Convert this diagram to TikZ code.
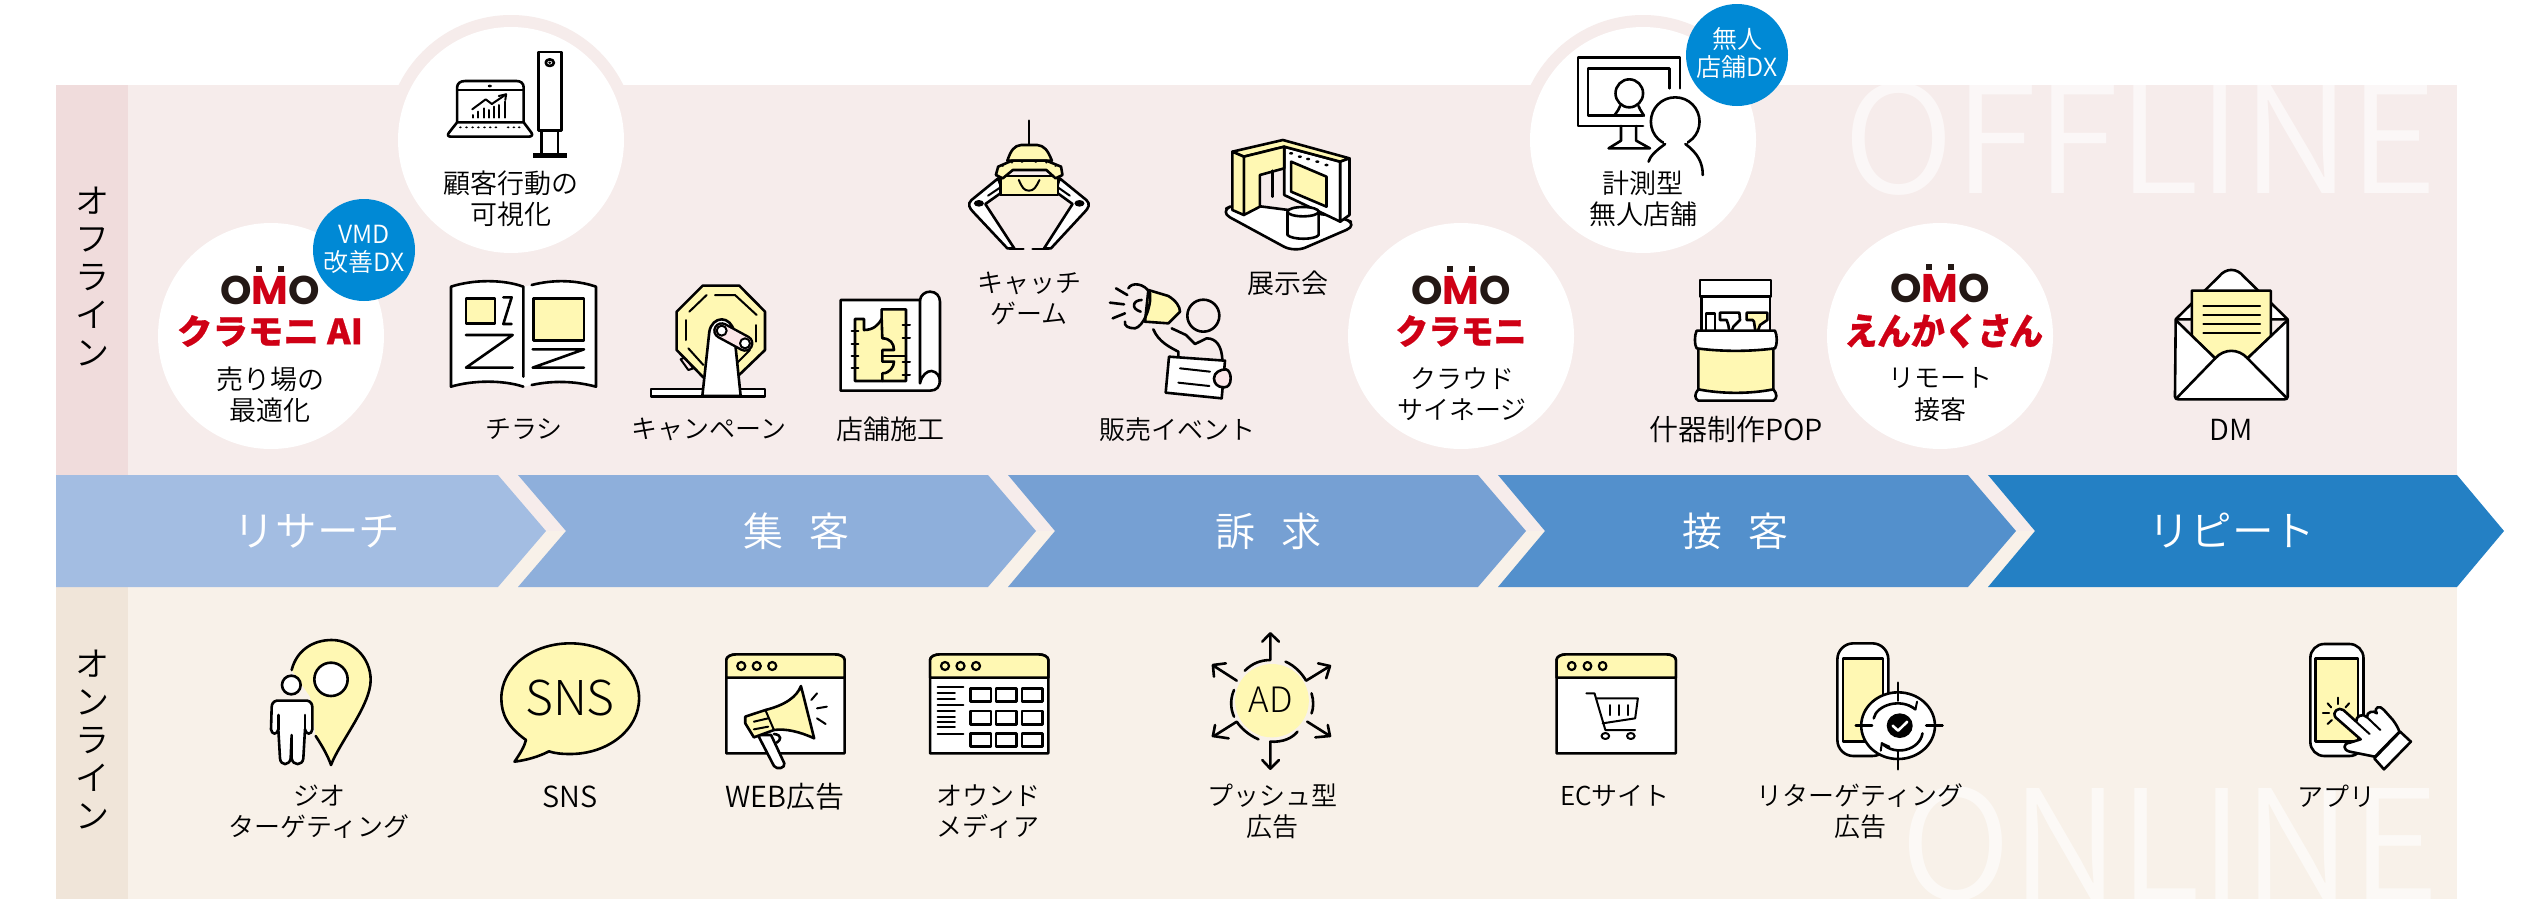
\documentclass[tikz,border=0pt]{standalone}
\usepackage{fontspec}
\usepackage{graphicx}
\newfontfamily\jp{Noto Sans CJK JP DemiLight}
\newfontfamily\jpl{Noto Sans CJK JP Light}
\newfontfamily\jpb{Noto Sans CJK JP Black}[FakeBold=0.6]
\newfontfamily\jpbs{Noto Sans CJK JP Black}[FakeSlant=0.15,FakeBold=0.6]
\newfontfamily\omof{Poppins}
\definecolor{bandoff}{HTML}{F6ECEB}
\definecolor{bandon}{HTML}{F8F1E9}
\definecolor{coloff}{HTML}{F0DCDC}
\definecolor{colon}{HTML}{F0E5D9}
\definecolor{cha}{HTML}{A3BDE2}
\definecolor{chb}{HTML}{8EAFDB}
\definecolor{chc}{HTML}{76A0D3}
\definecolor{chd}{HTML}{5390CC}
\definecolor{che}{HTML}{2480C4}
\definecolor{badge}{HTML}{0089D5}
\definecolor{omored}{HTML}{CF0015}
\definecolor{omodark}{HTML}{231815}
\definecolor{yf}{HTML}{FFF8B3}
\definecolor{pk}{HTML}{FCE6E8}
\tikzset{
  lab/.style={inner sep=0pt,align=center,text=black,yshift=-0.7pt,font=\jp\fontsize{13.5}{15.6}\selectfont},
  kana/.style={inner sep=0pt,align=center,text=black,yshift=-0.7pt,font=\jp\fontsize{13}{15.6}\selectfont},
  latin/.style={inner sep=0pt,align=center,text=black,yshift=-0.7pt,font=\jp\fontsize{14.5}{15.6}\selectfont},
  badgetxt/.style={inner sep=0pt,align=center,text=white,font=\jp\fontsize{12.5}{14}\selectfont},
  chlab/.style={inner sep=0pt,text=white,font=\jp\fontsize{20}{22}\selectfont},
  chkana/.style={inner sep=0pt,text=white,font=\jp\fontsize{20.8}{22}\selectfont},
  side/.style={inner sep=0pt,align=center,text=black,font=\jp\fontsize{17}{19}\selectfont},
  omo/.style={inner sep=0pt,text=omodark,font=\omof\bfseries\fontsize{20}{20}\selectfont},
  redtxt/.style={inner sep=0pt,text=omored,font=\jpb\fontsize{16}{16}\selectfont},
  ic/.style={line width=1.3pt,draw=black,line join=round,line cap=round},
  thin/.style={line width=1pt,draw=black,line join=round,line cap=round},
  yel/.style={ic,fill=yf},
  wht/.style={ic,fill=white},
  za/.style={xscale=0.40816,yscale=0.33333},
  zb/.style={shift={(640,100)},xscale=0.45918,yscale=0.33333},
  zc/.style={shift={(1340,0)},xscale=0.45918,yscale=0.33333},
  zd/.style={shift={(1980,60)},xscale=0.35906,yscale=0.33333},
  ze/.style={shift={(200,610)},xscale=0.57398,yscale=0.33333},
  zf/.style={shift={(1150,610)},xscale=0.54209,yscale=0.33333},
  zg/.style={shift={(1980,610)},xscale=0.35906,yscale=0.33333},
  pa/.style={shift={(440,270)},scale=0.33333},
  pb/.style={shift={(1100,270)},scale=0.33333},
  pc/.style={shift={(1680,270)},scale=0.33333},
  pd/.style={shift={(250,630)},scale=0.33333},
}
\newcommand{\omomark}[3]{%
  \node[omo] (#1) at (#2,#3) {O\textcolor{omored}{M}O};
  \fill[omodark] (#2-14,#3-24) rectangle ++(6,6);
  \fill[omodark] (#2+8,#3-24) rectangle ++(6,6);
}
\begin{document}
\begin{tikzpicture}[x=0.5pt,y=-0.5pt]
\useasboundingbox (0,0) rectangle (2543,916);
\fill[white] (0,0) rectangle (2543,916);
% bands
\fill[bandoff] (56,85) rectangle (2457,531);
\fill[bandon] (56,531) rectangle (2457,899);
\fill[coloff] (56,85) rectangle (128,476);
\fill[colon] (56,586) rectangle (128,899);
% rings
\fill[bandoff] (511,140) circle[radius=125];
\fill[bandoff] (1643,140) circle[radius=125];
% background words
\begin{scope}
\clip (56,85) rectangle (2457,531);
\node[inner sep=0pt,text=white,opacity=0.6] (wordoff) at (2140.5,139) {\resizebox{297pt}{55.5pt}{\jp OFFLINE}};
\end{scope}
\begin{scope}
\clip (56,531) rectangle (2457,899);
\node[inner sep=0pt,text=white,opacity=0.6] (wordon) at (2170,844) {\resizebox{269pt}{56.5pt}{\jp ONLINE}};
\end{scope}
% white circles
\fill[white] (511,140) circle[radius=113];
\fill[white] (1643,140) circle[radius=113];
\fill[white] (271,336) circle[radius=113];
\fill[white] (1461,336) circle[radius=113];
\fill[white] (1940,336) circle[radius=113];
% badges
\fill[badge] (364,250) circle[radius=51];
\fill[badge] (1737,55) circle[radius=51];
% chevrons
\fill[cha] (56,475) -- (498,475) -- (546,531) -- (498,587) -- (56,587) -- cycle;
\fill[chb] (518,475) -- (988,475) -- (1036,531) -- (988,587) -- (518,587) -- (566,531) -- cycle;
\fill[chc] (1008,475) -- (1478,475) -- (1526,531) -- (1478,587) -- (1008,587) -- (1055,531) -- cycle;
\fill[chd] (1498,475) -- (1968,475) -- (2016,531) -- (1968,587) -- (1498,587) -- (1545,531) -- cycle;
\fill[che] (1988,475) -- (2457,475) -- (2504,531) -- (2457,587) -- (1988,587) -- (2035,531) -- cycle;
\node[chkana] (c1) at (317,531) {リサーチ};
\node[chlab] (c2) at (796,531) {集\hspace{13pt}客};
\node[chlab] (c3) at (1268,531) {訴\hspace{13pt}求};
\node[chlab] (c4) at (1735,531) {接\hspace{13pt}客};
\node[chkana] (c5) at (2232,531) {リピート};
% side labels
\node[side] (s1) at (92,277) {オ\\フ\\ラ\\イ\\ン};
\node[side] (s2) at (92,740) {オ\\ン\\ラ\\イ\\ン};
% logos
\omomark{l1}{270}{290}
\omomark{l2}{1461}{290}
\omomark{l3}{1940}{288}
\node[redtxt] (r1) at (270,331) {\resizebox{93pt}{14.5pt}{クラモニ AI}};
\node[redtxt] (r2) at (1461,331) {\resizebox{65.5pt}{14.5pt}{クラモニ}};
\node[redtxt] (r3) at (1943,331) {\resizebox{99pt}{15.5pt}{\jpbs えんかくさん}};
% labels
\node[lab] (t1) at (270,393) {売り場の\\最適化};
\node[lab] (t2) at (511,197) {顧客行動の\\可視化};
\node[badgetxt] (b1) at (364,249) {VMD\\改善DX};
\node[badgetxt] (b2) at (1737,53) {無人\\店舗DX};
\node[kana] (t3) at (524,428) {チラシ};
\node[kana] (t4) at (709,428) {キャンペーン};
\node[lab] (t5) at (890,428) {店舗施工};
\node[kana] (t6) at (1029,297) {キャッチ\\ゲーム};
\node[lab] (t7) at (1288,282) {展示会};
\node[kana] (t8) at (1177,428) {販売イベント};
\node[lab] (t9) at (1643,197) {計測型\\無人店舗};
\node[kana] (t10) at (1462,393) {クラウド\\サイネージ};
\node[latin] (t11) at (1736,428) {什器制作POP};
\node[kana] (t12) at (1940,393) {リモート\\接客};
\node[latin] (t13) at (2231,428) {DM};
\node[kana] (t14) at (319,810) {ジオ\\ターゲティング};
\node[latin] (t15) at (570,795) {SNS};
\node[latin] (t16) at (785,795) {WEB広告};
\node[kana] (t17) at (988,810) {オウンド\\メディア};
\node[kana] (t18) at (1272,810) {プッシュ型\\広告};
\node[kana] (t19) at (1615,795) {ECサイト};
\node[kana] (t20) at (1860,810) {リターゲティング\\広告};
\node[kana] (t21) at (2336,795) {アプリ};
% --- laptop and camera
\begin{scope}[za]
\draw[ic] (1120,365) -- (1120,262) .. controls (1120,250) and (1128,243) .. (1140,243) -- (1265,243) .. controls (1276,243) and (1283,250) .. (1283,262) -- (1283,365);
\draw[ic] (1120,270) -- (1283,270);
\fill (1200,258) circle[x radius=5,y radius=4];
\draw[ic] (1120,367) -- (1283,367) -- (1302,398) .. controls (1306,406) and (1302,410) .. (1295,410) -- (1105,410) .. controls (1098,410) and (1095,406) .. (1100,398) -- cycle;
\foreach \x in {1128,1143,1158,1172,1187,1201,1215,1245,1259,1272} \fill (\x,382) circle[x radius=3.5,y radius=3];
\foreach \x/\y in {1160/345,1172/335,1185/325,1197/330,1210/320,1223/315,1238/305} \draw[thin] (\x,353) -- (\x,\y);
\draw[thin] (1157,328) -- (1190,298) -- (1205,312) -- (1240,283);
\draw[thin] (1222,288) -- (1240,283) -- (1238,300);
\draw[ic] (1320,156) rectangle (1375,392);
\draw[ic] (1347,188) circle[x radius=10,y radius=10];
\fill (1347,188) circle[x radius=4,y radius=4];
\draw[ic] (1327,392) rectangle (1367,462);
\draw[line width=2.4pt] (1306,466) -- (1390,466);
\end{scope}
% --- flyer
\begin{scope}[pa]
\fill[white] (33,350) -- (33,50) .. controls (100,28) and (190,28) .. (250,50) -- (275,45) .. controls (340,28) and (410,30) .. (468,50) -- (468,350) .. controls (400,332) and (335,332) .. (275,345) -- (250,350) .. controls (190,330) and (100,330) .. (33,350);
\draw[ic] (250,320) -- (250,50) .. controls (190,28) and (100,28) .. (33,50) -- (33,350) .. controls (100,330) and (190,330) .. (250,350);
\draw[ic] (275,45) .. controls (340,28) and (410,30) .. (468,50) -- (468,350) .. controls (400,332) and (335,332) .. (275,345);
\draw[yel] (78,85) rectangle (165,160);
\draw[yel] (280,85) rectangle (432,212);
\draw[ic] (190,82) -- (215,82) -- (190,162) -- (215,162);
\draw[ic] (78,195) -- (218,195) -- (78,293) -- (218,293);
\draw[ic] (278,238) -- (432,238) -- (278,293) -- (432,293);
\end{scope}
% --- capsule machine
\begin{scope}[pa]
\draw[ic,fill=pk,line width=1pt] (722,268) -- (735,262) -- (760,295) -- (745,300) -- cycle;
\draw[yel] (788,47) -- (898,47) -- (975,125) -- (975,240) -- (890,322) -- (790,322) -- (710,240) -- (710,125) -- cycle;
\draw[thin] (825,75) -- (885,75) -- (950,135);
\draw[thin] (748,125) -- (800,75);
\draw[thin] (737,150) -- (737,210);
\draw[thin] (947,165) -- (947,215);
\draw[thin] (745,235) -- (790,285);
\draw[thin] (890,280) -- (930,240);
\draw[wht] (633,357) rectangle (975,380);
\draw[wht] (787,378) -- (808,185) .. controls (812,162) and (828,148) .. (845,148) .. controls (862,148) and (878,162) .. (882,185) -- (902,378) -- cycle;
\draw[line width=8.5pt,line cap=round] (845,182) -- (915,220);
\draw[line width=6pt,pk,line cap=round] (845,182) -- (915,220);
\draw[wht,thin] (845,182) circle[radius=15];
\draw[wht,thin] (915,220) circle[radius=15];
\end{scope}
% --- blueprint
\begin{scope}[pa]
\draw[wht] (1202,90) -- (1440,90) .. controls (1442,75) and (1455,65) .. (1470,65) .. controls (1488,65) and (1500,78) .. (1500,95) -- (1500,330) .. controls (1500,350) and (1490,362) .. (1470,362) -- (1202,362) -- cycle;
\draw[ic] (1440,90) -- (1440,340) .. controls (1445,315) and (1462,302) .. (1475,303) .. controls (1490,305) and (1500,318) .. (1500,335);
\fill[yf] (1245,147) -- (1272,147) -- (1272,180) .. controls (1300,180) and (1315,165) .. (1325,147) -- (1325,118) -- (1398,118) -- (1398,333) -- (1245,333) -- cycle;
\draw[ic] (1327,205) -- (1325,147) -- (1325,118) -- (1398,118) -- (1398,333) -- (1327,333) -- (1327,310) .. controls (1350,310) and (1362,290) .. (1362,275) -- (1327,275) -- (1327,240) -- (1362,240) .. controls (1362,220) and (1350,205) .. (1327,205);
\draw[ic] (1327,333) -- (1245,333) -- (1245,147) -- (1272,147) -- (1272,180) .. controls (1300,180) and (1315,165) .. (1325,147);
\draw[ic] (1327,258) -- (1398,258);
\foreach \y in {183,222,257,295} \draw[thin] (1235,\y) -- (1255,\y);
\foreach \y in {165,203,277,315} \draw[thin] (1388,\y) -- (1410,\y);
\end{scope}
% --- claw
\begin{scope}[zb]
\draw[ic] (847,62) -- (847,135);
\draw[wht] (780,235) -- (722,300) .. controls (712,312) and (718,325) .. (725,335) -- (800,445) -- (815,445) -- (752,312) -- (790,275) -- cycle;
\draw[wht] (914,235) -- (972,300) .. controls (982,312) and (976,325) .. (969,335) -- (895,445) -- (880,445) -- (942,312) -- (905,275) -- cycle;
\draw[thin] (758,287) -- (785,262);
\draw[thin] (936,287) -- (910,262);
\fill (738,310) circle[x radius=11,y radius=10];
\fill (957,310) circle[x radius=11,y radius=10];
\draw[ic] (805,447) -- (835,447);
\draw[ic] (855,447) -- (890,447);
\draw[yel] (785,228) -- (910,228) -- (910,285) -- (785,285) -- cycle;
\draw[thin] (825,240) .. controls (832,262) and (836,272) .. (847,272) .. controls (858,272) and (862,262) .. (870,240);
\draw[yel] (800,182) .. controls (808,150) and (815,137) .. (830,135) -- (865,135) .. controls (880,137) and (888,150) .. (897,182) -- cycle;
\draw[yel] (775,225) -- (780,200) -- (810,182) -- (885,182) -- (917,200) -- (920,225) -- (905,235) -- (885,210) -- (812,210) -- (790,235) -- cycle;
\foreach \x/\y in {790/198,810/188,832/186,862/186,885/188,905/198} \fill (\x,\y) circle[x radius=3,y radius=2.5];
\end{scope}
% --- booth
\begin{scope}[zb]
\draw[wht,rounded corners=6pt] (1262,335) -- (1300,310) -- (1525,350) -- (1563,375) -- (1425,457) -- cycle;
\draw[wht] (1403,140) -- (1525,185) -- (1525,365) -- (1403,285) -- cycle;
\draw[yel] (1418,185) -- (1495,230) -- (1495,320) -- (1418,275) -- cycle;
\foreach \x/\y in {1418/160,1437/170,1455/177,1475/185,1495/195} \fill (\x,\y) circle[x radius=4.5,y radius=4];
\draw[yel] (1290,155) -- (1400,120) -- (1545,175) -- (1525,185) -- (1403,140) -- (1315,170) -- cycle;
\draw[yel] (1315,170) -- (1403,140) -- (1403,205) -- (1350,225) -- (1350,320) -- (1315,345) -- cycle;
\draw[yel] (1290,155) -- (1315,170) -- (1315,345) -- (1290,330) -- cycle;
\draw[wht] (1525,185) -- (1545,175) -- (1545,345) -- (1525,365) -- cycle;
\draw[ic] (1378,212) -- (1378,290);
\draw[wht] (1410,335) -- (1410,405) .. controls (1420,420) and (1470,420) .. (1478,405) -- (1478,335);
\draw[wht] (1444,335) circle[x radius=34,y radius=14];
\end{scope}
% --- megaphone person
\begin{scope}[pb]
\draw[yel] (145,60) -- (205,78) .. controls (228,92) and (240,110) .. (240,125) -- (205,160) -- (135,155) -- cycle;
\draw[ic] (85,55) .. controls (95,35) and (135,40) .. (150,70) .. controls (155,110) and (130,170) .. (105,175) .. controls (85,175) and (72,168) .. (75,155);
\draw[ic] (125,90) .. controls (100,90) and (90,115) .. (122,125);
\draw[ic] (48,55) -- (82,75);
\draw[ic] (30,98) -- (72,103);
\draw[ic] (38,145) -- (75,130);
\draw[ic] (310,137) circle[radius=48];
\draw[ic] (215,175) -- (258,195) -- (285,222) -- (320,205) .. controls (350,205) and (365,230) .. (367,268);
\draw[ic] (160,178) .. controls (175,215) and (210,232) .. (235,245) -- (235,258);
\draw[wht] (207,260) -- (375,272) -- (365,385) -- (197,368) -- cycle;
\draw[thin] (240,295) -- (330,305);
\draw[thin] (235,338) -- (328,348);
\draw[ic,fill=pk] (342,325) .. controls (342,308) and (360,298) .. (378,298) .. controls (388,300) and (392,315) .. (392,325) .. controls (392,342) and (385,352) .. (372,352) .. controls (352,352) and (342,340) .. (342,325) -- cycle;
\end{scope}
% --- measuring monitor
\begin{scope}[zc]
\draw[ic] (740,265) -- (740,172) -- (518,172) -- (518,378) -- (660,378);
\draw[ic] (717,265) -- (717,205) -- (540,205) -- (540,347) -- (660,347);
\draw[ic] (630,280) circle[x radius=30,y radius=42];
\draw[ic] (610,318) .. controls (605,335) and (600,340) .. (597,347);
\draw[ic] (650,318) .. controls (655,335) and (660,340) .. (662,347);
\draw[ic] (612,378) -- (612,422) -- (585,445) -- (675,445) -- (645,422) -- (645,378);
\draw[wht] (730,292) .. controls (700,292) and (677,325) .. (677,365) .. controls (677,405) and (700,437) .. (730,437) .. controls (760,437) and (783,405) .. (783,365) .. controls (783,325) and (760,292) .. (730,292);
\fill[white] (706,420) rectangle (755,445);
\draw[ic] (708,432) .. controls (685,455) and (675,470) .. (672,485);
\draw[ic] (752,432) .. controls (780,460) and (790,490) .. (790,525);
\end{scope}
% --- counter POP
\begin{scope}[pc]
\draw[wht] (65,75) rectangle (270,185);
\draw[wht] (60,30) rectangle (273,80);
\draw[wht] (78,130) rectangle (105,205);
\draw[wht] (120,128) -- (178,128) -- (180,150) -- (160,170) -- (150,198) -- (145,165) -- (140,150) -- (120,150) -- cycle;
\draw[yel] (200,128) -- (262,128) -- (262,150) -- (240,165) -- (228,198) -- (222,155) -- (218,150) -- (200,150) -- cycle;
\draw[yel] (55,232) -- (280,232) -- (280,362) .. controls (210,374) and (125,374) .. (55,362) -- cycle;
\draw[wht] (50,182) -- (285,182) .. controls (292,195) and (292,225) .. (285,235) .. controls (210,245) and (125,245) .. (50,235) .. controls (43,225) and (43,195) .. (50,182) -- cycle;
\draw[wht] (55,358) .. controls (125,372) and (210,372) .. (280,358) .. controls (292,372) and (292,385) .. (280,392) -- (55,392) .. controls (43,385) and (43,372) .. (55,358) -- cycle;
\end{scope}
% --- envelope
\begin{scope}[zd]
\draw[wht] (545,778) -- (665,650) .. controls (685,623) and (715,623) .. (735,650) -- (857,778) -- cycle;
\draw[yel] (590,692) -- (810,692) -- (810,830) -- (700,940) -- (590,830) -- cycle;
\foreach \y in {738,765,792,818} \draw[thin] (622,\y) -- (780,\y);
\draw[wht] (545,780) -- (655,895) .. controls (680,865) and (720,865) .. (745,895) -- (857,780) -- (857,1010) .. controls (857,1016) and (853,1018) .. (848,1018) -- (552,1018) .. controls (547,1018) and (543,1016) .. (543,1010) -- cycle;
\draw[ic] (655,895) -- (547,1015);
\draw[ic] (745,895) -- (855,1015);
\end{scope}
% --- geo pin
\begin{scope}[pd]
\fill[yf] (125,120) .. controls (140,60) and (190,30) .. (245,30) .. controls (310,30) and (362,85) .. (362,150) .. controls (362,225) and (270,335) .. (243,405) .. controls (235,380) and (215,345) .. (197,318) -- (180,200) -- cycle;
\draw[ic] (125,120) .. controls (140,60) and (190,30) .. (245,30) .. controls (310,30) and (362,85) .. (362,150) .. controls (362,225) and (270,335) .. (243,405) .. controls (235,380) and (215,345) .. (197,318);
\draw[wht] (243,148) circle[radius=50];
\draw[wht] (124,165) circle[radius=28];
\draw[wht] (80,212) -- (172,212) .. controls (182,214) and (187,222) .. (187,232) -- (187,298) .. controls (185,315) and (168,315) .. (165,298) -- (160,385) .. controls (158,408) and (128,408) .. (125,385) -- (125,315) -- (122,385) .. controls (118,408) and (92,408) .. (90,385) -- (85,298) .. controls (82,315) and (65,315) .. (63,298) -- (65,232) .. controls (65,222) and (70,214) .. (80,212) -- cycle;
\draw[ic] (85,255) -- (85,298);
\draw[ic] (165,255) -- (165,298);
\end{scope}
% --- SNS bubble
\begin{scope}[ze]
\draw[yel] (568,390) .. controls (535,350) and (525,310) .. (525,265) .. controls (525,170) and (580,100) .. (645,100) .. controls (710,100) and (765,170) .. (765,265) .. controls (765,360) and (710,432) .. (645,432) .. controls (630,432) and (618,430) .. (608,424) .. controls (590,440) and (570,450) .. (548,455) .. controls (558,430) and (565,410) .. (568,390) -- cycle;
\end{scope}
\node[inner sep=0pt,text=black,font=\jpl\fontsize{24}{24}\selectfont] (snsw) at (570,698) {SNS};
% --- windows
\begin{scope}[ze]
\draw[ic,fill=white] (917,430) -- (917,150) .. controls (917,140) and (925,133) .. (935,133) -- (1105,133) .. controls (1115,133) and (1123,140) .. (1123,150) -- (1123,430) -- cycle;
\draw[yel] (917,203) -- (917,150) .. controls (917,140) and (925,133) .. (935,133) -- (1105,133) .. controls (1115,133) and (1123,140) .. (1123,150) -- (1123,203) -- cycle;
\foreach \x in {943,970,997} \draw[thin,line width=1.1pt] (\x,168) circle[x radius=7,y radius=12];
\draw[wht] (972,375) -- (1000,468) .. controls (1005,480) and (1020,475) .. (1018,460) -- (995,375) -- cycle;
\draw[wht] (1000,372) .. controls (1015,375) and (1012,390) .. (1005,398);
\draw[yel] (950,320) -- (985,300) .. controls (1020,285) and (1040,260) .. (1047,228) -- (1070,385) .. controls (1045,365) and (1020,355) .. (1000,360) -- (965,382) -- (950,340) -- cycle;
\draw[thin] (965,335) -- (990,325);
\draw[thin] (965,358) -- (990,350);
\draw[thin] (985,300) -- (1000,360);
\draw[thin] (1075,250) -- (1065,270);
\draw[thin] (1075,295) -- (1092,290);
\draw[thin] (1075,325) -- (1090,342);
\draw[ic,fill=white] (1272,430) -- (1272,150) .. controls (1272,140) and (1280,133) .. (1290,133) -- (1460,133) .. controls (1470,133) and (1478,140) .. (1478,150) -- (1478,430) -- cycle;
\draw[yel] (1272,203) -- (1272,150) .. controls (1272,140) and (1280,133) .. (1290,133) -- (1460,133) .. controls (1470,133) and (1478,140) .. (1478,150) -- (1478,203) -- cycle;
\foreach \x in {1298,1325,1352} \draw[thin,line width=1.1pt] (\x,168) circle[x radius=7,y radius=12];
\foreach \x in {1342,1387,1432} \foreach \y in {235,303,370} \draw[ic] (\x,\y) rectangle ++(36,40);
\foreach \y/\x in {232/1330,250/1315,267/1315,285/1330,303/1315,320/1315,337/1315,352/1315,372/1330} \draw[thin] (1285,\y) -- (\x,\y);
\end{scope}
% --- push AD
\begin{scope}[zf]
\fill[yf] (225,272) circle[x radius=68,y radius=110];
\draw[ic] (175,182) .. controls (188,160) and (205,150) .. (222,150) -- (222,72);
\draw[ic] (207,95) -- (222,70) -- (238,95);
\draw[ic] (250,155) .. controls (268,168) and (280,190) .. (288,212) -- (332,168);
\draw[ic] (310,160) -- (332,168) -- (325,205);
\draw[ic] (160,212) -- (118,168);
\draw[ic] (118,200) -- (116,165) -- (140,160);
\draw[ic] (155,240) .. controls (148,265) and (148,295) .. (155,320);
\draw[ic] (298,250) .. controls (302,270) and (302,295) .. (298,310);
\draw[ic] (200,388) .. controls (182,375) and (168,355) .. (160,335) -- (118,378);
\draw[ic] (120,345) -- (116,378) -- (145,385);
\draw[ic] (272,365) .. controls (262,385) and (245,397) .. (222,395) -- (222,475);
\draw[ic] (207,450) -- (222,476) -- (238,450);
\draw[ic] (290,335) -- (332,378);
\draw[ic] (328,345) -- (332,378) -- (305,382);
\end{scope}
\node[inner sep=0pt,text=black,font=\jpl\fontsize{17.5}{18}\selectfont] (adw) at (1271,700) {AD};
% --- EC window
\begin{scope}[zf]
\draw[ic,fill=white] (750,430) -- (750,150) .. controls (750,140) and (758,133) .. (768,133) -- (952,133) .. controls (962,133) and (970,140) .. (970,150) -- (970,430) -- cycle;
\draw[yel] (750,203) -- (750,150) .. controls (750,140) and (758,133) .. (768,133) -- (952,133) .. controls (962,133) and (970,140) .. (970,150) -- (970,203) -- cycle;
\foreach \x in {778,807,835} \draw[thin,line width=1.1pt] (\x,168) circle[x radius=7,y radius=12];
\draw[thin] (805,250) -- (820,250) -- (840,360) -- (895,360);
\draw[thin] (825,265) -- (900,265) -- (895,325) -- (835,340);
\foreach \x in {848,865,882} \draw[thin] (\x,285) -- (\x,315);
\draw[thin] (840,378) circle[x radius=7,y radius=9];
\draw[thin] (887,378) circle[x radius=7,y radius=9];
\end{scope}
% --- retargeting
\begin{scope}[zf]
\draw[wht,rounded corners=8pt] (1268,100) rectangle (1362,438);
\draw[yel] (1278,145) rectangle (1352,395);
\draw[wht] (1380,347) circle[x radius=68,y radius=100];
\draw[ic] (1380,218) -- (1380,272);
\draw[ic] (1380,422) -- (1380,478);
\draw[ic] (1302,347) -- (1332,347);
\draw[ic] (1432,347) -- (1462,347);
\draw[ic] (1335,325) .. controls (1340,285) and (1385,262) .. (1412,298);
\draw[thin] (1398,285) -- (1412,298) -- (1415,275);
\draw[ic] (1425,370) .. controls (1420,420) and (1375,440) .. (1350,400);
\draw[thin] (1364,410) -- (1350,400) -- (1348,422);
\fill (1383,347) circle[x radius=24,y radius=37];
\draw[white,line width=1.3pt,line cap=round,line join=round] (1370,347) -- (1380,362) -- (1397,335);
\end{scope}
% --- app
\begin{scope}[zg]
\draw[wht,rounded corners=7pt] (920,102) rectangle (1068,438);
\draw[yel] (935,145) rectangle (1053,395);
\draw[thin] (998,263) -- (998,282);
\draw[thin] (1028,280) -- (1018,292);
\draw[thin] (968,280) -- (978,292);
\draw[thin] (955,310) -- (972,310);
\draw[thin] (968,342) -- (980,330);
\draw[wht] (1060,388) -- (990,322) .. controls (980,305) and (998,290) .. (1012,300) -- (1048,335) .. controls (1045,318) and (1068,308) .. (1078,322) .. controls (1075,305) and (1098,300) .. (1105,310) .. controls (1095,290) and (1115,285) .. (1125,300) -- (1150,330) .. controls (1160,345) and (1165,355) .. (1168,365) -- (1100,440) -- (1030,425) .. controls (1010,420) and (1010,400) .. (1030,398) -- cycle;
\draw[thin] (1050,338) -- (1085,372);
\draw[thin] (1078,322) -- (1115,360);
\draw[wht] (1170,365) -- (1200,395) -- (1125,478) -- (1098,445) -- cycle;
\end{scope}
\end{tikzpicture}
\end{document}
